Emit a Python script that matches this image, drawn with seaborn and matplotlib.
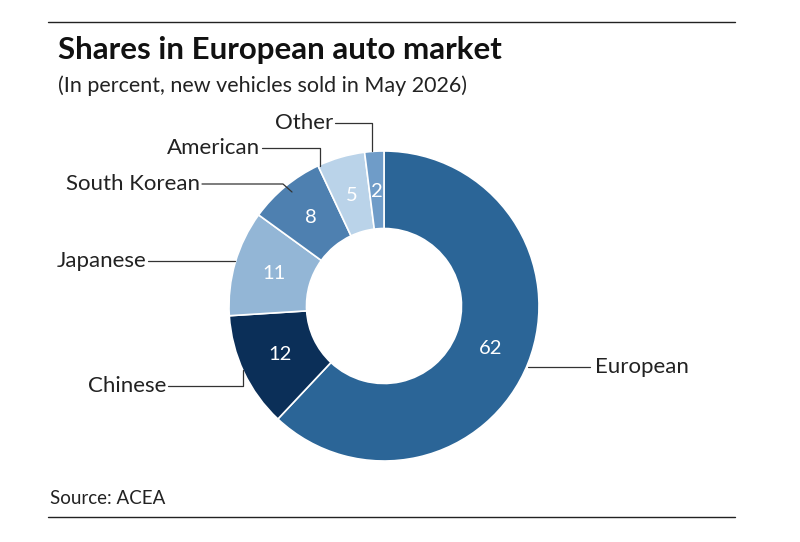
import matplotlib
matplotlib.use("Agg")
import matplotlib.pyplot as plt
import seaborn as sns
import numpy as np

sns.set_theme(style="white")
plt.rcParams['font.family'] = ['Lato', 'DejaVu Sans']

labels = ["European", "Chinese", "Japanese", "South Korean", "American", "Other"]
shares = [62, 12, 11, 8, 5, 2]
colors = ["#2b6597", "#0b2f58", "#93b6d6", "#4e80b0", "#bad3e9", "#6f9cc8"]

fig = plt.figure(figsize=(8, 5.42), dpi=100)
ax = fig.add_axes([0, 0, 1, 1])

H = 542
cx, cy, R = 384, H - 306, 155
wedges, _ = ax.pie(shares, colors=colors, startangle=90, counterclock=False,
                   center=(cx, cy), radius=R, frame=True,
                   wedgeprops=dict(width=R * 0.5, edgecolor="white", linewidth=1.2))
ax.set_xlim(0, 800)
ax.set_ylim(0, 542)
ax.set_aspect("equal")
ax.axis("off")

# values inside wedges
for w, v in zip(wedges, shares):
    ang = np.deg2rad((w.theta1 + w.theta2) / 2)
    r = R * 0.74
    ax.text(cx + r * np.cos(ang), cy + r * np.sin(ang), str(v), color="white",
            ha="center", va="center", fontsize=14.5)

# leader lines and labels (pixel coords from the top)
leaders = {
    "European": ([528, 590], [367, 367], (595, 367, "left")),
    "Chinese": ([168, 243, 243], [386, 386, 370], (166, 386, "right")),
    "Japanese": ([148, 235], [261, 261], (146, 261, "right")),
    "South Korean": ([202, 283, 292], [184, 184, 192], (200, 184, "right")),
    "American": ([262, 320, 320], [148, 148, 166], (260, 148, "right")),
    "Other": ([335, 372, 372], [123, 123, 151], (333, 123, "right")),
}
for name in labels:
    xs, ys, (tx, ty, ha) = leaders[name]
    ax.plot(xs, [H - y for y in ys], color="#333333", lw=0.9)
    ax.text(tx, H - ty, name, ha=ha, va="center", fontsize=16, color="#222222")

# header / footer
ax.plot([48, 735], [H - 22, H - 22], color="#222222", lw=1)
ax.plot([48, 735], [H - 517, H - 517], color="#222222", lw=1)
ax.text(58, H - 50, "Shares in European auto market", fontsize=22.5, fontweight="bold",
        va="center", color="#111111")
ax.text(58, H - 86, "(In percent, new vehicles sold in May 2026)", fontsize=15.5,
        va="center", color="#222222")
ax.text(50, H - 498, "Source: ACEA", fontsize=13.5, va="center", color="#222222")

fig.savefig("out.png", dpi=100)
